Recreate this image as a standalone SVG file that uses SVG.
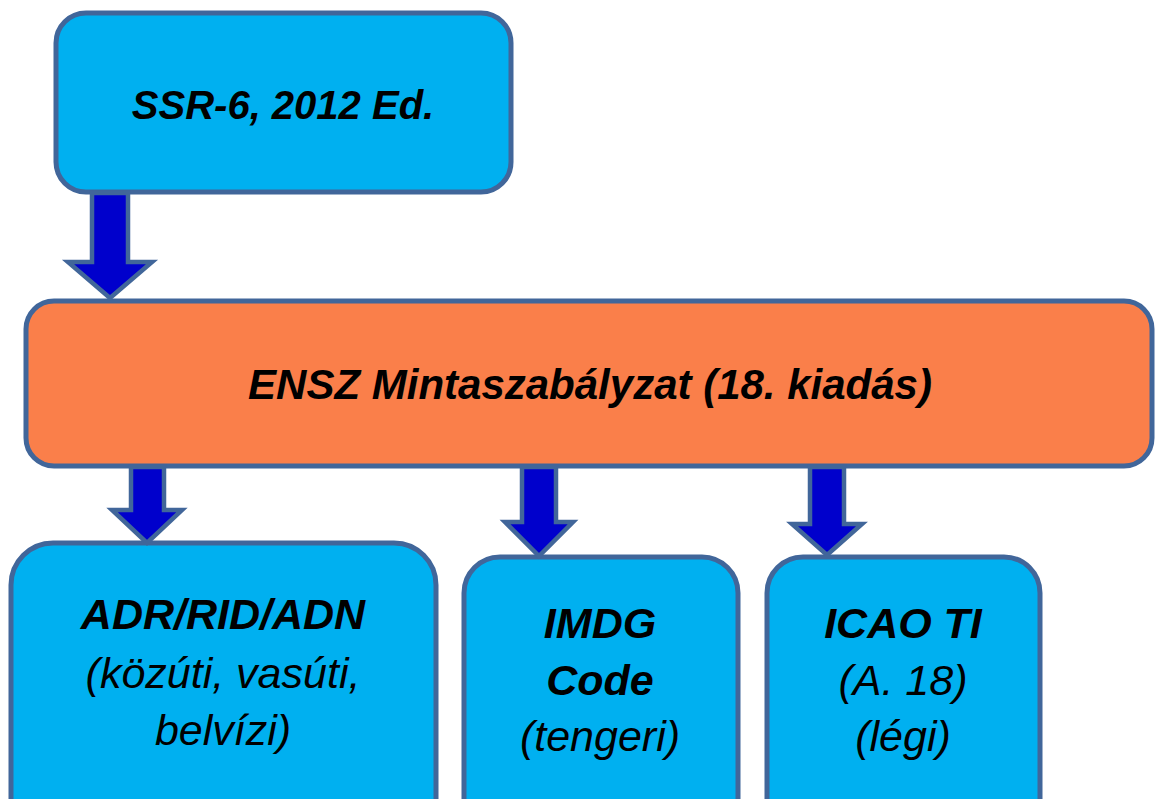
<svg xmlns="http://www.w3.org/2000/svg" width="1155" height="799" viewBox="0 0 1155 799">
<style>
.box{fill:#00B0F0;stroke:#41669A;stroke-width:5}
.main{fill:#FA7F4A;stroke:#41669A;stroke-width:5}
.arrow{fill:#0000CC;stroke:#41669A;stroke-width:4.5;stroke-linejoin:miter}
text{font-family:"Liberation Sans",Arial,sans-serif;font-style:italic;fill:#000;text-anchor:middle}
.b{font-weight:bold}
.s{font-size:43px}
</style>
<rect width="1155" height="799" fill="#fff"/>
<g id="n-ssr">
<rect class="box" x="56" y="13" width="455" height="179" rx="30"/>
<text class="b" x="283" y="119" font-size="40">SSR-6, 2012 Ed.</text>
</g>
<g id="n-ensz">
<rect class="main" x="26" y="301" width="1126" height="165" rx="28"/>
<text class="b" x="590" y="399" font-size="42">ENSZ Mintaszabályzat (18. kiadás)</text>
</g>
<g id="n-adr">
<rect class="box" x="11" y="543" width="425" height="300" rx="42"/>
<text class="b s" x="223" y="629">ADR/RID/ADN</text>
<text class="s" x="223" y="688">(közúti, vasúti,</text>
<text class="s" x="223" y="745">belvízi)</text>
</g>
<g id="n-imdg">
<rect class="box" x="464" y="557" width="274" height="290" rx="36"/>
<text class="b s" x="600" y="638">IMDG</text>
<text class="b s" x="600" y="695">Code</text>
<text class="s" x="600" y="751">(tengeri)</text>
</g>
<g id="n-icao">
<rect class="box" x="767" y="557" width="273" height="290" rx="36"/>
<text class="b s" x="903" y="638">ICAO TI</text>
<text class="s" x="903" y="695">(A. 18)</text>
<text class="s" x="903" y="751">(légi)</text>
</g>
<g id="connectors">
<polygon class="arrow" points="92,193 128,193 128,262 152,262 110,298 68,262 92,262"/>
<polygon class="arrow" points="131,467 164,467 164,510 182,510 147,543 112,510 131,510"/>
<polygon class="arrow" points="522,467 556,467 556,522 573,522 539,556 505,522 522,522"/>
<polygon class="arrow" points="810,467 844,467 844,524 862,524 827,555 792,524 810,524"/>
</g>
</svg>
